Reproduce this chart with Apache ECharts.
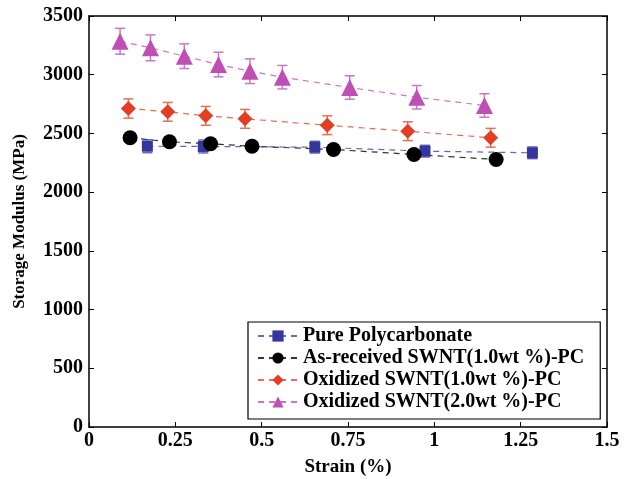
<!DOCTYPE html>
<html>
<head>
<meta charset="utf-8">
<script src="https://cdn.jsdelivr.net/npm/echarts@6/dist/echarts.min.js"></script>
<style>
html,body{margin:0;padding:0;background:#fff;}
#chart{width:624px;height:479px;}
</style>
</head>
<body>
<div id="chart"></div>
<script>
// Storage modulus vs. strain for PC and SWNT/PC composites
const seriesNames = [
  'Pure Polycarbonate',
  'As-received SWNT(1.0wt %)-PC',
  'Oxidized SWNT(1.0wt %)-PC',
  'Oxidized SWNT(2.0wt %)-PC'
];
const pureStrain = [0.169, 0.331, 0.654, 0.973, 1.284];
const pureModulus = [2391, 2389, 2383, 2349, 2335];
const pureErr = [55, 55, 50, 50, 50];

const asRecStrain = [0.119, 0.233, 0.352, 0.472, 0.708, 0.941, 1.179];
const asRecModulus = [2463, 2429, 2412, 2391, 2363, 2321, 2278];
const asRecErr = [40, 40, 40, 35, 35, 40, 40];

const ox1Strain = [0.114, 0.228, 0.338, 0.452, 0.690, 0.923, 1.163];
const ox1Modulus = [2712, 2684, 2650, 2624, 2570, 2519, 2463];
const ox1Err = [82, 80, 80, 80, 80, 80, 80];

const ox2Strain = [0.090, 0.178, 0.276, 0.375, 0.466, 0.560, 0.755, 0.949, 1.145];
const ox2Modulus = [3285, 3229, 3158, 3087, 3030, 2979, 2891, 2808, 2738];
const ox2Err = [110, 110, 105, 105, 105, 100, 100, 100, 100];

const xTicks = [0, 0.25, 0.5, 0.75, 1, 1.25, 1.5];
const yTicks = [0, 500, 1000, 1500, 2000, 2500, 3000, 3500];

const markerColors = ['#33379b', '#000000', '#e33d24', '#bf4fb5'];
const lineColors = ['#6468c0', '#333333', '#ee6a55', '#cf75c6'];
const symbols = ['rect', 'circle', 'diamond', 'triangle'];
const symbolSizes = [11, 15, 15, 17];

const groups = [
  [pureStrain, pureModulus, pureErr],
  [asRecStrain, asRecModulus, asRecErr],
  [ox1Strain, ox1Modulus, ox1Err],
  [ox2Strain, ox2Modulus, ox2Err]
];

const font = 'Liberation Serif, Times New Roman, serif';
const series = [];

groups.forEach(function (g, i) {
  const pts = g[0].map(function (x, k) { return [x, g[1][k], g[2][k]]; });
  // error bars (on the mirrored top/right axes, which share the same scale)
  series.push({
    type: 'custom',
    name: seriesNames[i] + ' err',
    silent: true,
    xAxisIndex: 1,
    yAxisIndex: 1,
    z: 2,
    data: pts,
    renderItem: function (params, api) {
      const x = api.value(0), y = api.value(1), e = api.value(2);
      const top = api.coord([x, y + e]);
      const bot = api.coord([x, y - e]);
      const hw = 5;
      const st = { stroke: lineColors[i], lineWidth: 1.5 };
      return {
        type: 'group',
        children: [
          { type: 'line', shape: { x1: top[0], y1: top[1], x2: bot[0], y2: bot[1] }, style: st },
          { type: 'line', shape: { x1: top[0] - hw, y1: top[1], x2: top[0] + hw, y2: top[1] }, style: st },
          { type: 'line', shape: { x1: bot[0] - hw, y1: bot[1], x2: bot[0] + hw, y2: bot[1] }, style: st }
        ]
      };
    }
  });
  series.push({
    type: 'line',
    name: seriesNames[i],
    z: 3,
    data: pts.map(function (p) { return [p[0], p[1]]; }),
    symbol: symbols[i],
    symbolSize: symbolSizes[i],
    showAllSymbol: true,
    itemStyle: { color: markerColors[i] },
    lineStyle: { color: lineColors[i], width: 1.2, type: [6, 5] },
    emphasis: { disabled: true },
    animation: false
  });
});

const chart = echarts.init(document.getElementById('chart'));
chart.setOption({
  animation: false,
  backgroundColor: '#fff',
  grid: { left: 89, right: 17, top: 16, bottom: 52, outerBoundsMode: 'none', containLabel: false },
  legend: {
    data: seriesNames,
    orient: 'vertical',
    left: 248,
    top: 322,
    padding: [4, 16, 7, 9],
    itemWidth: 40,
    itemHeight: 14,
    itemGap: 2,
    borderColor: '#000',
    borderWidth: 1.2,
    borderRadius: 0,
    backgroundColor: '#fff',
    textStyle: { fontFamily: font, fontWeight: 'bold', fontSize: 20, lineHeight: 20, color: '#000' }
  },
  xAxis: [{
    type: 'value', min: 0, max: 1.5, interval: 0.25,
    name: 'Strain (%)', nameLocation: 'middle', nameGap: 31,
    nameTextStyle: { fontFamily: font, fontWeight: 'bold', fontSize: 19, color: '#000' },
    axisLine: { onZero: false, lineStyle: { color: '#000', width: 1.5 } },
    axisTick: { inside: true, length: 5, lineStyle: { color: '#000' } },
    axisLabel: {
      fontFamily: font, fontWeight: 'bold', fontSize: 20, color: '#000', margin: 4,
      formatter: function (v) { return xTicks.indexOf(v) >= 0 ? String(v) : ''; }
    },
    splitLine: { show: false }
  }, {
    type: 'value', min: 0, max: 1.5, interval: 0.25, position: 'top',
    axisLine: { show: true, onZero: false, lineStyle: { color: '#000', width: 1.5 } },
    axisTick: { show: true, inside: true, length: 5, lineStyle: { color: '#000' } },
    axisLabel: { show: false }, splitLine: { show: false }
  }],
  yAxis: [{
    type: 'value', min: 0, max: 3500, interval: 500,
    name: 'Storage Modulus (MPa)', nameLocation: 'middle', nameGap: 61,
    nameTextStyle: { fontFamily: font, fontWeight: 'bold', fontSize: 17, color: '#000' },
    axisLine: { show: true, onZero: false, lineStyle: { color: '#000', width: 1.5 } },
    axisTick: { show: true, inside: true, length: 5, lineStyle: { color: '#000' } },
    axisLabel: {
      fontFamily: font, fontWeight: 'bold', fontSize: 20, color: '#000', margin: 6,
      formatter: function (v) { return yTicks.indexOf(v) >= 0 ? String(v) : ''; }
    },
    splitLine: { show: false }
  }, {
    type: 'value', min: 0, max: 3500, interval: 500, position: 'right',
    axisLine: { show: true, onZero: false, lineStyle: { color: '#000', width: 1.5 } },
    axisTick: { show: true, inside: true, length: 5, lineStyle: { color: '#000' } },
    axisLabel: { show: false }, splitLine: { show: false }
  }],
  series: series
});
</script>
</body>
</html>
